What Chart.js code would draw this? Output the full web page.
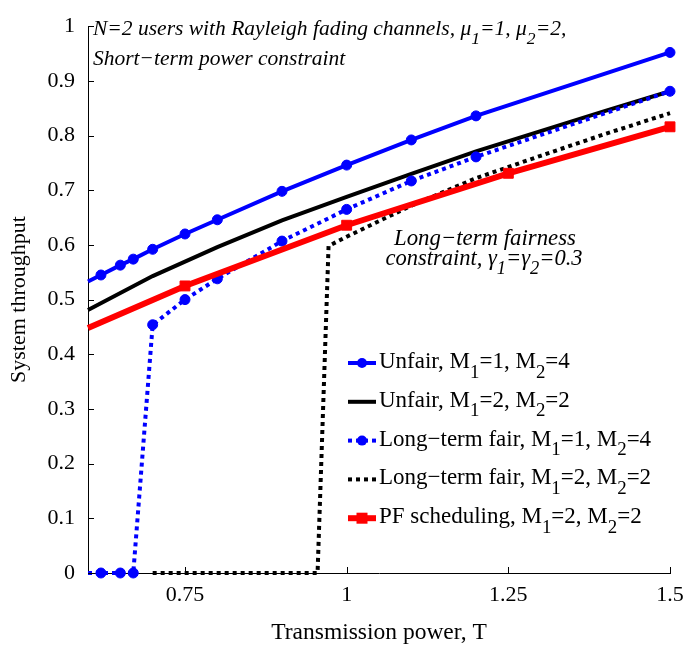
<!DOCTYPE html>
<html>
<head>
<meta charset="utf-8">
<script src="https://cdn.jsdelivr.net/npm/chart.js@4"></script>
<style>
html,body{margin:0;padding:0;background:#fff;}
#wrap{width:685px;height:647px;}
</style>
</head>
<body>
<div id="wrap"><canvas id="c" width="685" height="647"></canvas></div>
<script>
// ---- data ----
const xTicks = [0.75, 1, 1.25, 1.5];
const yTicks = [0, 0.1, 0.2, 0.3, 0.4, 0.5, 0.6, 0.7, 0.8, 0.9, 1];

const tUnfair14 = [0.6, 0.62, 0.65, 0.67, 0.7, 0.75, 0.8, 0.9, 1.0, 1.1, 1.2, 1.5];
const thrUnfair14 = [0.533, 0.545, 0.563, 0.574, 0.592, 0.620, 0.646, 0.698, 0.746, 0.792, 0.836, 0.952];

const tUnfair22 = [0.6, 0.7, 0.8, 0.9, 1.0, 1.1, 1.2, 1.3, 1.4, 1.5];
const thrUnfair22 = [0.481, 0.543, 0.596, 0.645, 0.688, 0.730, 0.771, 0.808, 0.845, 0.881];

const tFair14 = [0.6, 0.62, 0.65, 0.67, 0.7, 0.75, 0.8, 0.9, 1.0, 1.1, 1.2, 1.5];
const thrFair14 = [0, 0, 0, 0, 0.454, 0.500, 0.538, 0.607, 0.665, 0.717, 0.761, 0.881];

const tFair22 = [0.7, 0.955, 0.972, 1.0, 1.1, 1.2, 1.3, 1.4, 1.5];
const thrFair22 = [0, 0, 0.598, 0.615, 0.672, 0.722, 0.763, 0.803, 0.841];

const tPF = [0.6, 0.75, 1.0, 1.25, 1.5];
const thrPF = [0.448, 0.525, 0.636, 0.731, 0.816];

const seriesNames = [
  ['Unfair, M', {t:'1', sub:true}, '=1, M', {t:'2', sub:true}, '=4'],
  ['Unfair, M', {t:'1', sub:true}, '=2, M', {t:'2', sub:true}, '=2'],
  ['Long\u2212term fair, M', {t:'1', sub:true}, '=1, M', {t:'2', sub:true}, '=4'],
  ['Long\u2212term fair, M', {t:'1', sub:true}, '=2, M', {t:'2', sub:true}, '=2'],
  ['PF scheduling, M', {t:'1', sub:true}, '=2, M', {t:'2', sub:true}, '=2']
];
const xTitle = 'Transmission power, T';
const yTitle = 'System throughput';
const noteTop1 = [{t:'N=2 users with Rayleigh fading channels, ', it:true}, {t:'\u03bc'}, {t:'1', sub:true, it:true}, {t:'=1, ', it:true}, {t:'\u03bc'}, {t:'2', sub:true, it:true}, {t:'=2,', it:true}];
const noteTop2 = [{t:'Short\u2212term power constraint', it:true}];
const noteMid1 = [{t:'Long\u2212term fairness', it:true}];
const noteMid2 = [{t:'constraint, ', it:true}, {t:'\u03b3'}, {t:'1', sub:true, it:true}, {t:'=', it:true}, {t:'\u03b3'}, {t:'2', sub:true, it:true}, {t:'=0.3', it:true}];

const BLUE = '#0000ff', BLACK = '#000000', RED = '#ff0000';
const FONT = '"Liberation Serif", "Times New Roman", serif';

function pts(xs, ys){ return xs.map((x,i)=>({x:x, y:ys[i]})); }
const skipFirst = r => (ctx => ctx.dataIndex === 0 ? 0 : r);

const datasets = [
  {label:'Unfair, M1=1, M2=4', data:pts(tUnfair14,thrUnfair14), borderColor:BLUE, backgroundColor:BLUE,
   borderWidth:4, pointRadius:skipFirst(5), pointStyle:'circle', order:4},
  {label:'Unfair, M1=2, M2=2', data:pts(tUnfair22,thrUnfair22), borderColor:BLACK, backgroundColor:BLACK,
   borderWidth:4, pointRadius:0, order:3},
  {label:'Long-term fair, M1=1, M2=4', data:pts(tFair14,thrFair14), borderColor:BLUE, backgroundColor:BLUE,
   borderWidth:4, borderDash:[4,4], pointRadius:skipFirst(5), pointStyle:'circle', order:1},
  {label:'Long-term fair, M1=2, M2=2', data:pts(tFair22,thrFair22), borderColor:BLACK, backgroundColor:BLACK,
   borderWidth:4, borderDash:[4,4], pointRadius:0, order:2},
  {label:'PF scheduling, M1=2, M2=2', data:pts(tPF,thrPF), borderColor:RED, backgroundColor:RED,
   borderWidth:6, pointRadius:skipFirst(7), pointStyle:'rect', order:0}
];
datasets.forEach(d=>{ d.tension=0; d.clip=false; d.pointBorderWidth=1; d.borderCapStyle='butt'; d.fill=false; });

function segFont(s, size, baseItalic){
  const it = (s.it !== undefined) ? s.it : baseItalic;
  const sz = s.sub ? size*0.82 : size;
  return (it ? 'italic ' : '') + sz + 'px ' + FONT;
}
function norm(segs){ return segs.map(s => typeof s === 'string' ? {t:s} : s); }
function richWidth(ctx, segs, size, it){
  let w = 0;
  norm(segs).forEach(s=>{ ctx.font = segFont(s,size,it); w += ctx.measureText(s.t).width; });
  return w;
}
function drawRich(ctx, x, y, segs, size, it, align){
  segs = norm(segs);
  let w = richWidth(ctx, segs, size, it);
  let cx = align === 'center' ? x - w/2 : (align === 'right' ? x - w : x);
  ctx.textBaseline = 'alphabetic';
  ctx.textAlign = 'left';
  ctx.fillStyle = '#000';
  segs.forEach(s=>{
    ctx.font = segFont(s,size,it);
    ctx.fillText(s.t, cx, s.sub ? y + size*0.42 : y);
    cx += ctx.measureText(s.t).width;
  });
}

const decor = {
  id:'decor',
  afterDraw(chart){
    const ctx = chart.ctx;
    const xs = chart.scales.x, ys = chart.scales.y;
    ctx.save();
    // inward tick marks
    ctx.strokeStyle = '#000'; ctx.lineWidth = 1;
    xTicks.forEach(v=>{
      const p = Math.round(xs.getPixelForValue(v)) + 0.5;
      ctx.beginPath(); ctx.moveTo(p, ys.bottom); ctx.lineTo(p, ys.bottom - 6); ctx.stroke();
    });
    yTicks.forEach(v=>{
      const p = Math.round(ys.getPixelForValue(v)) + 0.5;
      ctx.beginPath(); ctx.moveTo(xs.left, p); ctx.lineTo(xs.left + 6, p); ctx.stroke();
    });
    // annotations
    drawRich(ctx, 93, 35, noteTop1, 21.5, true, 'left');
    drawRich(ctx, 93, 65, noteTop2, 21.5, true, 'left');
    drawRich(ctx, 485, 245, noteMid1, 22.8, true, 'center');
    drawRich(ctx, 484, 265, noteMid2, 22.5, true, 'center');
    // legend
    const lx0 = 348, lx1 = 376, tx = 379, by0 = 368, dy = 38.8;
    datasets.forEach((d,i)=>{
      const by = by0 + i*dy;
      const sy = by - 5;
      ctx.save();
      ctx.strokeStyle = d.borderColor; ctx.lineWidth = d.borderWidth;
      ctx.lineCap = 'butt';
      ctx.setLineDash(d.borderDash || []);
      ctx.beginPath(); ctx.moveTo(lx0, sy); ctx.lineTo(lx1, sy); ctx.stroke();
      ctx.setLineDash([]);
      if (d.pointStyle === 'circle') {
        ctx.fillStyle = d.borderColor;
        ctx.beginPath(); ctx.arc((lx0+lx1)/2, sy, 5, 0, Math.PI*2); ctx.fill();
      } else if (d.pointStyle === 'rect') {
        ctx.fillStyle = d.borderColor;
        ctx.fillRect((lx0+lx1)/2 - 5.5, sy - 5.5, 11, 11);
      }
      ctx.restore();
      drawRich(ctx, tx, by, seriesNames[i], 23, false, 'left');
    });
    ctx.restore();
  }
};

new Chart(document.getElementById('c'), {
  type:'line',
  data:{datasets:datasets},
  options:{
    responsive:false,
    animation:false,
    devicePixelRatio:1,
    layout:{padding:{top:13, right:0, left:0, bottom:0}},
    plugins:{legend:{display:false}, tooltip:{enabled:false}},
    scales:{
      x:{
        type:'linear', min:0.6, max:1.5,
        afterBuildTicks:s=>{ s.ticks = xTicks.map(v=>({value:v})); },
        afterFit:s=>{ s.height = 74; s.paddingRight = 15; s.paddingLeft = 0; },
        grid:{display:false, drawTicks:false},
        border:{display:true, color:'#000', width:1},
        ticks:{color:'#000', font:{family:FONT, size:22}, padding:9, maxRotation:0,
               callback:v=>String(v)},
        title:{display:true, text:xTitle, color:'#000', font:{family:FONT, size:23.5}, padding:{top:0,bottom:0}}
      },
      y:{
        type:'linear', min:0, max:1,
        afterBuildTicks:s=>{ s.ticks = yTicks.map(v=>({value:v})); },
        afterFit:s=>{ s.width = 88; },
        grid:{display:false, drawTicks:false},
        border:{display:true, color:'#000', width:1},
        ticks:{color:'#000', font:{family:FONT, size:22}, padding:13,
               callback:v=>String(Math.round(v*10)/10)},
        title:{display:true, text:yTitle, color:'#000', font:{family:FONT, size:22}, padding:{top:6,bottom:0}}
      }
    }
  },
  plugins:[decor]
});
</script>
</body>
</html>
